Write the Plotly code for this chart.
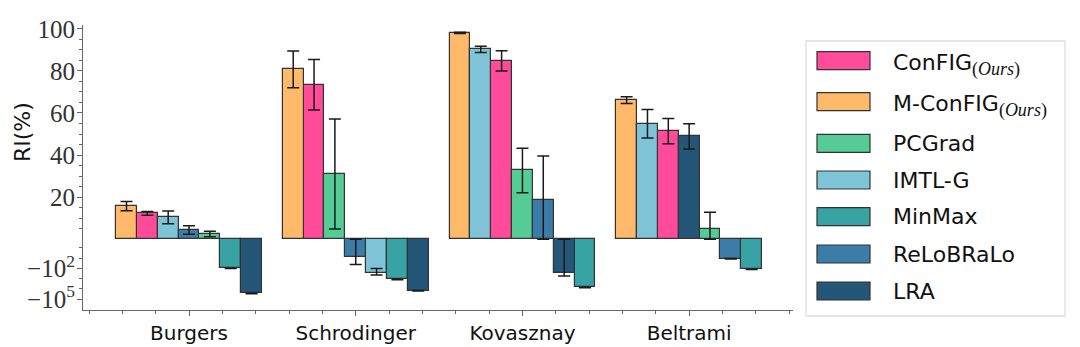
import math
import plotly.graph_objects as go

# ---------------- data ----------------
categories = ["Burgers", "Schrodinger", "Kovasznay", "Beltrami"]
methods = ["ConFIG", "M-ConFIG", "PCGrad", "IMTL-G", "MinMax", "ReLoBRaLo", "LRA"]
SUB = '<sub><span style="font-family:Liberation Serif;font-size:18px">(<i>Ours</i>)</span></sub>'
legend_labels = [
    "ConFIG" + SUB,
    "M-ConFIG" + SUB,
    "PCGrad", "IMTL-G", "MinMax", "ReLoBRaLo", "LRA",
]
colors = ["#FF4B9A", "#FFB96B", "#55CC96", "#7EC3D6", "#37A3A5", "#3B7CA8", "#235677"]

# RI(%) per method, one value per category
val_config   = [12.3, 73.4, 84.8, 51.4]
val_mconfig  = [15.8, 80.7, 98.1, 66.1]
val_pcgrad   = [2.5, 31.0, 32.7, 4.7]
val_imtlg    = [10.4, -270.0, 90.2, 54.9]
val_minmax   = [-100.0, -1200.0, -7300.0, -125.0]
val_relobralo = [4.4, -8.4, 18.6, -11.5]
val_lra      = [-28000.0, -15500.0, -270.0, 48.9]

err_config   = [0.9, 12.0, 4.8, 6.0]
err_mconfig  = [2.2, 8.7, 0.3, 1.6]
err_pcgrad   = [1.3, 26.1, 10.6, 8.1]
err_imtlg    = [3.0, 170.0, 1.5, 6.8]
err_minmax   = [5.0, 60.0, 400.0, 6.0]
err_relobralo = [2.0, 33.0, 21.0, 0.6]
err_lra      = [1500.0, 800.0, 300.0, 6.0]

values = [val_config, val_mconfig, val_pcgrad, val_imtlg, val_minmax, val_relobralo, val_lra]
errors = [err_config, err_mconfig, err_pcgrad, err_imtlg, err_minmax, err_relobralo, err_lra]

# y tick labels
ytick_values = [-1e5, -1e2, 20, 40, 60, 80, 100]
ytick_text = ["\u221210<sup>5</sup>", "\u221210<sup>2</sup>", "20", "40", "60", "80", "100"]
yminor_values = [-1e4, -1e3, -10, -1] + [v for v in range(5, 100, 5) if v % 20]

# ---------------- scale: linear for positive, log-like for negative ----------------
A, B = 4.11, 4.855


def T(v):
    if v >= 0:
        return v
    a = abs(v)
    if a <= 1:
        return -A * a
    return -(A + B * math.log10(a))


BAR_W = 0.125
n_m = len(methods)

fig = go.Figure()
for mi, m in enumerate(methods):
    xs, ys, ep, em = [], [], [], []
    for ci in range(len(categories)):
        col = [values[k][ci] for k in range(n_m)]
        order = sorted(range(n_m), key=lambda k: -col[k])
        rank = order.index(mi)
        xs.append(ci + (rank - (n_m - 1) / 2) * BAR_W)
        v = values[mi][ci]
        e = errors[mi][ci]
        hi, lo = v + e, v - e
        if v < 0 and hi > 0:
            hi = 0
        if v > 0 and lo < 0:
            lo = 0
        ty = T(v)
        ys.append(ty)
        ep.append(T(hi) - ty)
        em.append(ty - T(lo))
    fig.add_trace(go.Bar(
        x=xs, y=ys, width=BAR_W, name=m,
        marker=dict(color=colors[mi], line=dict(color="#333333", width=1.2)),
        error_y=dict(type="data", symmetric=False, array=ep, arrayminus=em,
                     color="#1a1a1a", thickness=1.5, width=6),
        showlegend=False,
    ))

# ---------------- layout ----------------
L, R, TOP, BOT = 83, 287, 25, 37
W, H = 1080, 347
pw, ph = W - L - R, H - TOP - BOT


def px_x(x):
    return (x - L) / pw


def px_y(y):
    return (H - BOT - y) / ph


fig.update_layout(
    width=W, height=H,
    margin=dict(l=L, r=R, t=TOP, b=BOT, pad=0, autoexpand=False),
    plot_bgcolor="white", paper_bgcolor="white",
    barmode="overlay", bargap=0,
    showlegend=False,
    xaxis=dict(
        range=[-0.636, 3.623], showline=True, linecolor="#666666", linewidth=1.2,
        showgrid=False, zeroline=False, automargin=False,
        tickmode="array", tickvals=list(range(len(categories))), ticktext=categories,
        ticks="outside", ticklen=5, tickwidth=1.2, tickcolor="#666666",
        tickfont=dict(family="DejaVu Sans", size=20, color="#111111"),
        minor=dict(tickvals=[round(-0.6 + 0.2 * i, 3) for i in range(22)],
                   ticks="outside", ticklen=3, tickcolor="#666666", tickwidth=1),
    ),
    yaxis=dict(
        range=[T(-1e5) - 5.2, 101.8], showline=True, linecolor="#666666", linewidth=1.2,
        showgrid=False, zeroline=False, automargin=False,
        tickmode="array", tickvals=[T(v) for v in ytick_values], ticktext=ytick_text,
        ticks="outside", ticklen=5, tickwidth=1.2, tickcolor="#666666",
        ticklabelstandoff=-3,
        tickfont=dict(family="Liberation Serif", size=25, color="#333333"),
        minor=dict(tickvals=[T(v) for v in yminor_values],
                   ticks="outside", ticklen=3, tickcolor="#666666", tickwidth=1),
    ),
)

# y axis title
fig.add_annotation(
    x=px_x(22), y=px_y(132), xref="paper", yref="paper", text="RI(%)",
    textangle=-90, showarrow=False, xanchor="center", yanchor="middle",
    font=dict(family="DejaVu Sans", size=22, color="#111111"),
)

# custom legend box
bx0, bx1, by0, by1 = 806, 1065, 41, 316
fig.add_shape(type="rect", xref="paper", yref="paper",
              x0=px_x(bx0), x1=px_x(bx1), y0=px_y(by1), y1=px_y(by0),
              line=dict(color="#dddddd", width=1.3), fillcolor="white", layer="below")

entry_y = [60.7, 101.7, 143.3, 180, 216.7, 254, 291]
for i, lab in enumerate(legend_labels):
    cy = entry_y[i]
    fig.add_shape(type="rect", xref="paper", yref="paper",
                  x0=px_x(817), x1=px_x(870), y0=px_y(cy + 9), y1=px_y(cy - 9),
                  line=dict(color="#333333", width=1.2), fillcolor=colors[i])
    dy = 4 if "<sub>" in lab else 0
    fig.add_annotation(
        x=px_x(891), y=px_y(cy + dy), xref="paper", yref="paper", text=lab,
        showarrow=False, xanchor="left", yanchor="middle",
        font=dict(family="DejaVu Sans", size=22, color="#111111"),
    )

fig.write_html("out.html")
